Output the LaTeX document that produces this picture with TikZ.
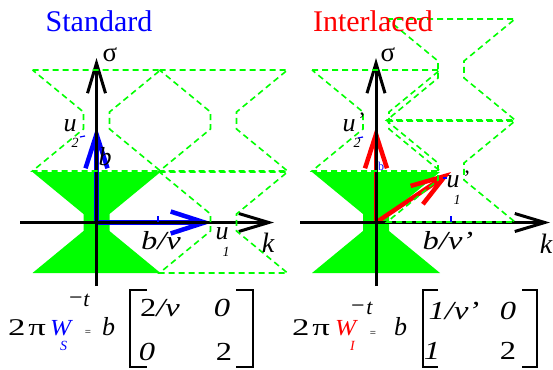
\documentclass[tikz,border=0pt]{standalone}
\usepackage{fontspec}
\usepackage{graphicx}
\setmainfont{Liberation Serif}
\usetikzlibrary{arrows.meta}
\definecolor{hgreen}{RGB}{0,255,0}
\newcommand\fsz[1]{\fontsize{#1}{#1}\selectfont}
\newcommand\wide[1]{\scalebox{1.25}[1]{#1}}
\tikzset{
  hgpic/.pic={\path[pic actions] (-64,-50.5) -- (64,-50.5) -- (13,-8.5) -- (13,8.5) -- (64,50.5) -- (-64,50.5) -- (-13,8.5) -- (-13,-8.5) -- cycle;},
  hgfill/.style={fill=hgreen},
  hgdash/.style={draw=hgreen, line width=1.6pt, dash pattern=on 6pt off 4pt},
  axis/.style={line width=3pt, -{Straight Barb[length=30pt,width=18pt]}},
  vecS/.style={blue, line width=4.5pt, -{Straight Barb[length=34pt,width=22pt]}},
  vecI/.style={red, line width=4.5pt, -{Straight Barb[length=34pt,width=22pt]}},
  lbl/.style={inner sep=0pt, font=\fsz{26}\itshape},
  sub/.style={inner sep=0pt, font=\fsz{14}\itshape},
  tick/.style={blue, line width=1.2pt},
  brk/.style={line width=2.5pt},
  txt/.style={inner sep=0pt},
}
\begin{document}
\begin{tikzpicture}[x=1pt,y=-1pt]
\useasboundingbox (0,0) rectangle (553,369);
% coordinates
\coordinate (L0) at (96.5,222.5);
\coordinate (Lst) at (96.5,58);
\coordinate (Lsb) at (96.5,286);
\coordinate (Lkl) at (20,222.5);
\coordinate (Lkr) at (274,222.5);
\coordinate (Lu2) at (96.5,127);
\coordinate (Lu1) at (212,222.5);
\coordinate (R0) at (376,222.5);
\coordinate (Rst) at (376,58);
\coordinate (Rsb) at (376,286);
\coordinate (Rkl) at (300,222.5);
\coordinate (Rkr) at (550,222.5);
\coordinate (Ru2) at (376,127);
\coordinate (Ru1) at (451,172);
% filled hourglasses
\pic[hgfill] at (96.5,222.5) {hgpic};
\pic[hgfill] at (376,222.5) {hgpic};
% vectors
\draw[vecS] (L0) -- (Lu2);
\draw[vecS] (L0) -- (Lu1);
\draw[vecI] (R0) -- (Ru2);
\draw[vecI] (R0) -- (Ru1);
% axes
\draw[axis] (Lsb) -- (Lst);
\draw[axis] (Lkl) -- (Lkr);
\draw[axis] (Rsb) -- (Rst);
\draw[axis] (Rkl) -- (Rkr);
% dashed copies
\pic[hgdash] at (96.5,120.5) {hgpic};
\pic[hgdash] at (223.5,120.5) {hgpic};
\pic[hgdash] at (223.5,222.5) {hgpic};
\pic[hgdash] at (376,120.5) {hgpic};
\pic[hgdash] at (451,171.5) {hgpic};
\pic[hgdash] at (451,69.5) {hgpic};
% ticks
\draw[tick] (158,216) -- (158,222);
\draw[tick] (451,216) -- (451,222);
\draw[tick] (80,137) -- (85,136);
\draw[tick] (358,138) -- (363,137);
\draw[tick] (443,178) -- (447,178);
% titles
\node[txt, anchor=base, font=\fsz{30}, text=blue] (tS) at (99,32) {Standard};
\node[txt, anchor=base, font=\fsz{30}, text=red] (tI) at (373,32) {Interlaced};
% axis labels
\node[txt, font=\fsz{27}] (Lsig) at (110,55) {σ};
\node[txt, font=\fsz{27}] (Rsig) at (388,55) {σ};
\node[lbl, font=\fsz{28}\itshape] (Lk) at (268,243) {k};
\node[lbl, font=\fsz{28}\itshape] (Rk) at (546,244) {k};
% left labels
\node[lbl] (Lu2t) at (70,126) {u};
\node[sub] (Lu2s) at (75,143) {2};
\node[lbl] (Lb) at (105,157) {b};
\node[lbl] (Lu1t) at (222,234) {u};
\node[sub] (Lu1s) at (226,252) {1};
\node[lbl] (Lbn) at (161,241) {\wide{b/ν}};
% right labels
\node[lbl] (Ru2t) at (349,126) {u};
\node[sub, font=\fsz{22}] (Ru2p) at (362,120) {’};
\node[sub] (Ru2s) at (357,143) {2};
\node[lbl] (Ru1t) at (453,182) {u};
\node[sub, font=\fsz{22}] (Ru1p) at (467,178) {’};
\node[sub] (Ru1s) at (457,200) {1};
\node[lbl] (Rbn) at (448,241) {\wide{b/ν’}};
\node[txt, font=\fsz{12}, text=blue] (Rb) at (381,166) {b};
% left formula
\node[txt, anchor=base west, font=\fsz{24}] (Lf1) at (8,335) {\scalebox{1.45}[1]{2\hspace{2pt}π}};
\node[txt, anchor=base west, font=\fsz{23}\itshape, text=blue] (Lf2) at (50,335) {\scalebox{1.1}[1]{W}};
\node[txt, anchor=base west, font=\fsz{14}\itshape, text=blue] (Lf3) at (60,350) {S};
\node[txt, font=\fsz{24}] (Lf4) at (76,301) {−};
\node[txt, font=\fsz{22}\itshape] (Lf5) at (86.5,300) {t};
\node[txt, font=\fsz{11}] (Lf6) at (88,333) {=};
\node[txt, anchor=base west, font=\fsz{26}\itshape] (Lf7) at (102,335) {b};
\draw[brk] (147,290) -- (130,290) -- (130,367) -- (147,367);
\draw[brk] (236,290) -- (253,290) -- (253,367) -- (236,367);
\node[txt, font=\fsz{26}] (Lm11) at (160,308) {\wide{2\textit{/ν}}};
\node[txt, font=\fsz{26}\itshape] (Lm12) at (222,308) {\wide{0}};
\node[txt, font=\fsz{26}\itshape] (Lm21) at (147,352) {\wide{0}};
\node[txt, font=\fsz{26}] (Lm22) at (224,352) {\wide{2}};
% right formula
\node[txt, anchor=base west, font=\fsz{24}] (Rf1) at (292,335) {\scalebox{1.45}[1]{2\hspace{2pt}π}};
\node[txt, anchor=base west, font=\fsz{23}\itshape, text=red] (Rf2) at (335,335) {\scalebox{1.1}[1]{W}};
\node[txt, anchor=base west, font=\fsz{14}\itshape, text=red] (Rf3) at (350,350) {I};
\node[txt, font=\fsz{24}] (Rf4) at (358,309) {−};
\node[txt, font=\fsz{22}\itshape] (Rf5) at (369.5,308) {t};
\node[txt, font=\fsz{11}] (Rf6) at (373,334) {=};
\node[txt, anchor=base west, font=\fsz{26}\itshape] (Rf7) at (394,335) {b};
\draw[brk] (438,290) -- (423,290) -- (423,367) -- (438,367);
\draw[brk] (522,290) -- (537,290) -- (537,367) -- (522,367);
\node[txt, font=\fsz{26}\itshape] (Rm11) at (454,311) {\wide{1/ν’}};
\node[txt, font=\fsz{26}\itshape] (Rm12) at (508,311) {\wide{0}};
\node[txt, font=\fsz{26}\itshape] (Rm21) at (432,351) {\wide{1}};
\node[txt, font=\fsz{26}] (Rm22) at (508,351) {\wide{2}};
\end{tikzpicture}
\end{document}
